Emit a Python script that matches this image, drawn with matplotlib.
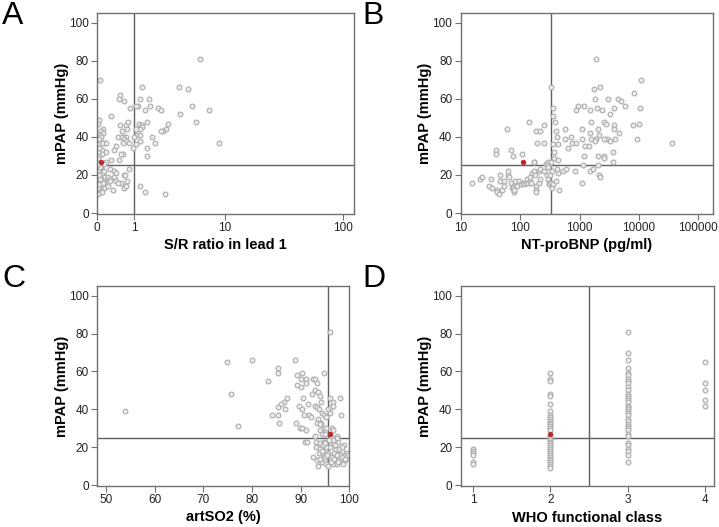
import numpy as np
import matplotlib
matplotlib.use('Agg')
import matplotlib.pyplot as plt

plt.rcParams['font.family'] = ['Liberation Sans', 'DejaVu Sans']

# Panel A: S/R ratio in lead 1 vs mPAP
sr_x = [5.84, 0.06, 3.6, 4.5, 1.34, 0.54, 0.5, 0.65, 1.22, 1.65, 4.88, 7.15, 3.7, 1.16, 1.72,
        1.09, 0.87, 1.47, 2.13, 2.3, 5.4, 0.3, 0.03, 0.02, 0.54, 0.72, 0.79, 1.2, 1.34, 1.56,
        2.8, 2.66, 2.45, 2.3, 1.34, 1.25, 1.06, 0.77, 0.6, 0.12, 0.07, 0.12, 0.05, 0.08, 1.12,
        1.0, 1.25, 0.49, 0.67, 0.72, 0.6, 1.82, 1.57, 1.95, 0.65, 0.72, 0.63, 0.82, 1.25, 8.77,
        0.15, 0.19, 0.09, 0.04, 0.02, 1.06, 0.95, 0.43, 0.37, 0.09, 0.18, 0.03, 0.63, 0.56, 0.09,
        1.54, 0.04, 0.31, 0.5, 0.19, 0.13,
        0.02, 0.08, 0.07, 0.28, 0.37, 0.03, 0.11, 0.43, 0.12, 0.15, 0.03, 0.65, 0.83, 0.24, 0.37,
        0.44, 0.27, 0.28, 0.08, 0.04, 0.15, 0.05, 0.04, 0.09, 0.13, 0.19, 0.15, 0.02, 0.08, 0.02,
        0.07, 0.09, 0.36, 0.66, 0.73, 0.75, 0.7, 0.57, 0.49, 1.24, 1.47, 2.6,
        0.01, 0.03, 0.05, 0.1, 0.06, 0.02, 0.11, 0.04, 0.14, 0.22, 0.01]
sr_y = [81, 70, 66, 65, 66, 62, 60, 59, 60, 60, 56, 54, 52, 56, 56,
        56, 55, 54, 55, 54, 48, 51, 49, 47, 46, 46, 48, 47, 46, 48,
        47, 44, 43, 43, 45, 44, 44, 44, 43, 44, 43, 42, 41, 40, 41,
        40, 41, 40, 40, 40, 40, 40, 34, 37, 39, 38, 37, 37, 38, 37,
        37, 37, 37, 39, 36, 36, 34, 35, 33, 33, 32, 34, 31, 31, 31,
        30, 30, 28, 28, 27, 26,
        25, 24, 23, 23, 22, 22, 22, 21, 20, 19, 19, 20, 23, 19, 19,
        17, 18, 17, 18, 17, 17, 15, 14, 14, 16, 14, 13, 12, 12, 13,
        11, 11, 12, 13, 14, 17, 20, 16, 16, 14, 11, 10,
        10, 15, 18, 21, 24, 26, 16, 20, 22, 14, 29]
sr_red = (0.07, 27)

# Panel B: NT-proBNP vs mPAP
bnp_x = [1900, 10700, 326, 2220, 1770, 8090, 925, 1210, 1840, 3030, 4520, 4950, 5930, 10600,
         3780, 2400, 1950, 1490, 362, 870, 3200, 354, 390, 141, 2530, 2770, 3830, 9900, 7800,
         248, 61, 185, 219, 567, 1080, 1530, 2030, 3780, 4700, 9440, 36600, 396, 417, 706, 1490,
         2100, 2890, 3930, 1120, 1570, 1860, 2570, 560, 754, 870, 192, 248, 362, 434, 1250, 1420,
         3200, 1840, 637, 39, 39, 69, 76, 107, 366, 1210, 2010, 3680, 2570, 376, 427, 3680, 2600,
         171, 272, 294, 310, 326,
         15.5, 21.4, 23.2, 32.4, 30.3, 34, 40.3, 41.3, 44.6, 49.5, 46.5, 45.9, 52.8, 54.2, 61.7,
         63.4, 65.9, 71, 77.7, 72.2, 77.7, 76.8, 80, 83, 87, 97, 102, 110, 117, 124, 130, 135,
         145, 146, 152, 160, 171, 180, 185, 185, 183, 169, 205, 218, 205, 220, 255, 283, 296,
         286, 296, 305, 312, 320, 330, 350, 340, 360, 400, 450, 520, 600, 830, 1080, 1140, 1490,
         1700, 2010, 2090, 2250, 430, 411, 340]
bnp_y = [81, 70, 66, 66, 65, 63, 56, 56, 60, 60, 60, 59, 56, 55,
         55, 54, 55, 54, 55, 54, 52, 51, 48, 48, 48, 47, 46, 47, 46,
         46, 44, 43, 43, 44, 44, 48, 44, 44, 42, 39, 37, 43, 40, 40, 42,
         41, 39, 39, 39, 39, 39, 39, 39, 37, 37, 37, 37, 36, 36, 35, 35,
         38, 38, 34, 33, 31, 33, 30, 31, 32, 30, 30, 32, 30, 29, 28, 27, 29,
         27, 26, 27, 25, 27,
         16, 18, 19, 18, 14, 13, 12, 11, 10, 12, 20, 17, 17, 14, 20,
         22, 19, 16, 14, 13, 11, 13, 12, 17, 14, 17, 15, 16, 15, 16, 18, 16,
         17, 19, 16, 21, 22, 20, 14, 12, 11, 27, 16, 18, 22, 23, 22, 25, 24,
         20, 18, 16, 15, 20, 16, 14, 13, 15, 17, 12, 22, 23, 22, 16, 25, 22,
         23, 25, 20, 19, 21, 23, 22]
bnp_red = (110, 27)

# Panel C: artSO2 vs mPAP
so2_x = [96.0, 53.8, 74.9, 75.6, 79.9, 77.1, 85.3, 85.3, 83.2, 88.8, 89.2, 90.2, 90.0, 89.2,
         90.0, 91.1, 91.2, 92.5, 93.0, 93.3, 94.7, 92.9, 93.6, 94.0, 92.3, 94.2, 96.0, 96.6,
         98.1, 87.1, 86.6, 85.9, 85.3, 86.8, 84.2, 85.3, 85.6, 89.6, 90.5, 91.6, 90.3, 90.7,
         91.8, 92.1, 93.0, 93.3, 93.7, 94.3, 93.5, 94.2, 94.8, 95.3, 95.7, 96.3, 96.0, 96.6,
         98.2, 89.1, 89.9, 90.2, 91.2, 93.3, 94.0, 94.7, 95.3, 96.4, 94.0, 94.3, 95.0, 96.7,
         97.5, 92.9, 90.9, 91.4, 93.1,
         92.6, 93.1, 94.0, 93.8, 94.3, 93.6, 94.3, 95.0, 94.7, 95.3, 95.7, 96.0, 96.4, 96.7,
         96.8, 97.0, 97.3, 97.5, 97.7, 97.9, 98.1, 98.4, 98.8, 98.9, 99.1, 99.5, 96.7, 97.4,
         95.7, 94.8, 95.2, 96.4, 97.4, 96.7, 95.0, 94.0, 93.3, 98.2, 98.6, 99.8,
         93.9, 94.6, 95.5, 96.2, 97.1, 97.8, 98.5, 99.2, 95.9, 96.9, 97.6, 94.4, 95.1]
so2_y = [81, 39, 65, 48, 66, 31, 62, 59, 55, 66, 58, 59, 56, 53,
         52, 56, 54, 56, 56, 54, 59, 50, 49, 47, 48, 44, 46, 44,
         46, 46, 44, 43, 41, 40, 37, 37, 33, 42, 46, 43, 40, 37,
         37, 36, 42, 41, 40, 38, 35, 33, 37, 36, 40, 41, 38, 42,
         37, 33, 30, 30, 29, 33, 32, 30, 30, 30, 29, 27, 27, 29,
         26, 26, 23, 23, 23,
         15, 20, 22, 17, 18, 10, 12, 13, 16, 11, 17, 20, 15, 22,
         17, 13, 19, 16, 23, 13, 18, 15, 11, 21, 13, 17, 11, 11,
         10, 23, 20, 25, 25, 24, 15, 19, 13, 17, 18, 16,
         14, 21, 16, 12, 21, 19, 20, 14, 24, 14, 12, 18, 22]
so2_red = (96.0, 27)

# Panel D: WHO functional class vs mPAP
who1 = [19, 18, 17, 16, 12, 11]
who2 = [59, 56, 55, 48, 47, 43, 39, 37, 36, 35, 34, 33, 32, 31, 30, 29, 26, 25, 24, 23,
        22, 21, 20, 19, 18, 17, 16, 15, 14, 13, 12, 11, 10, 9]
who3 = [81, 70, 66, 62, 59, 58, 56, 55, 54, 52, 50, 48, 47, 46, 45, 44, 42, 41, 40, 39,
        38, 37, 35, 34, 32, 31, 30, 29, 27, 26, 22, 21, 19, 18, 16, 12]
who4 = [65, 54, 50, 45, 42]
who_red = (2, 27)

grey_edge = '#adadad'
grey_face = '#ececec'
line_col = '#606060'
red = '#c0282d'

fig = plt.figure(figsize=(7.19, 5.27), dpi=100)
W, H = 719, 527


def make_ax(left, top, right, bottom):
    return fig.add_axes([left / W, 1 - bottom / H, (right - left) / W, (bottom - top) / H])


def style(ax, xlabel):
    ax.set_ylim(-0.5, 105)
    ax.set_yticks([0, 20, 40, 60, 80, 100])
    for s in ax.spines.values():
        s.set_color('#707070')
        s.set_linewidth(1.0)
    ax.tick_params(direction='out', length=4, width=0.8, color='#707070', labelsize=8.5,
                   labelcolor='#222222', pad=2)
    ax.set_ylabel('mPAP (mmHg)', fontsize=10.5, fontweight='bold', labelpad=0)
    ax.set_xlabel(xlabel, fontsize=10.5, fontweight='bold', labelpad=3)
    ax.axhline(25, color=line_col, lw=1.0, zorder=1)


def pts(ax, x, y, red_pt):
    ax.scatter(x, y, s=12, facecolors=grey_face, edgecolors=grey_edge, linewidths=0.8, zorder=2)
    ax.scatter([red_pt[0]], [red_pt[1]], s=15, color=red, zorder=3, linewidths=0)


# A
axA = make_ax(97, 13, 354, 214)
axA.set_xscale('function', functions=(lambda v: np.log10(np.clip(v, -0.999, None) + 1),
                                      lambda v: 10 ** v - 1))
axA.set_xlim(0, 122)
axA.set_xticks([0, 1, 10, 100])
axA.set_xticklabels(['0', '1', '10', '100'])
axA.axvline(1, color=line_col, lw=1.0, zorder=1)
pts(axA, sr_x, sr_y, sr_red)
style(axA, 'S/R ratio in lead 1')

# B
axB = make_ax(460.7, 13, 713, 214)
axB.set_xscale('log')
axB.set_xlim(10, 176000)
axB.set_xticks([10, 100, 1000, 10000, 100000])
axB.set_xticklabels(['10', '100', '1000', '10000', '100000'])
axB.xaxis.set_minor_locator(matplotlib.ticker.NullLocator())
axB.axvline(330, color=line_col, lw=1.0, zorder=1)
pts(axB, bnp_x, bnp_y, bnp_red)
style(axB, 'NT-proBNP (pg/ml)')

# C
axC = make_ax(97.3, 286.3, 349.3, 486)
axC.set_xlim(48.2, 100)
axC.set_xticks([50, 60, 70, 80, 90, 100])
axC.axvline(95.7, color=line_col, lw=1.0, zorder=1)
pts(axC, so2_x, so2_y, so2_red)
style(axC, 'artSO2 (%)')

# D
axD = make_ax(460.7, 286.3, 714.3, 486)
axD.set_xlim(0.84, 4.12)
axD.set_xticks([1, 2, 3, 4])
axD.axvline(2.5, color=line_col, lw=1.0, zorder=1)
who_x = [1] * len(who1) + [2] * len(who2) + [3] * len(who3) + [4] * len(who4)
who_y = who1 + who2 + who3 + who4
pts(axD, who_x, who_y, who_red)
style(axD, 'WHO functional class')

for lab, (x, y) in zip('ABCD', [(2, 24), (362, 24), (2, 287), (362, 287)]):
    fig.text(x / W, 1 - y / H, lab, fontsize=23, color='black', ha='left', va='baseline')

fig.savefig('out.png', dpi=100)
